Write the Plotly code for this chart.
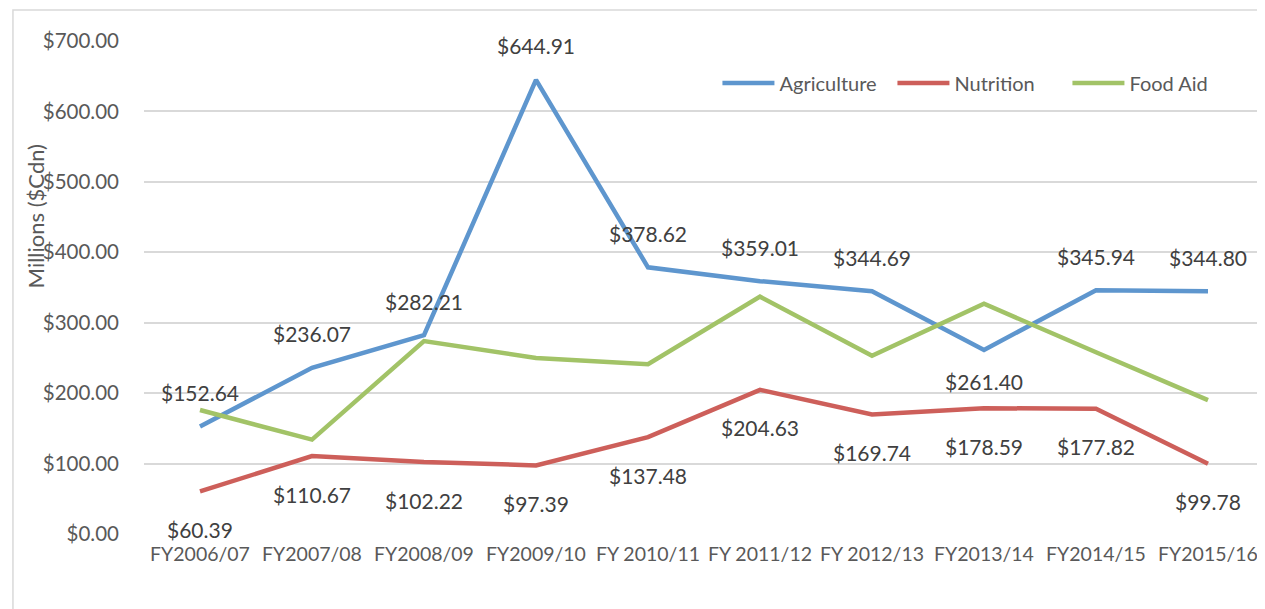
import plotly.graph_objects as go

years = ["FY2006/07", "FY2007/08", "FY2008/09", "FY2009/10", "FY 2010/11",
         "FY 2011/12", "FY 2012/13", "FY2013/14", "FY2014/15", "FY2015/16"]
agriculture = [152.64, 236.07, 282.21, 644.91, 378.62, 359.01, 344.69, 261.40, 345.94, 344.80]
nutrition = [60.39, 110.67, 102.22, 97.39, 137.48, 204.63, 169.74, 178.59, 177.82, 99.78]
food_aid = [176, 134, 274, 250, 241, 337, 253, 327, 258, 190]

FONT = "Lato"

fig = go.Figure()

# Lines
fig.add_trace(go.Scatter(x=years, y=agriculture, name="Agriculture", mode="lines",
                         line=dict(color="#5E96CE", width=4.5)))
fig.add_trace(go.Scatter(x=years, y=nutrition, name="Nutrition", mode="lines",
                         line=dict(color="#CD5F5A", width=4.5)))
fig.add_trace(go.Scatter(x=years, y=food_aid, name="Food Aid", mode="lines",
                         line=dict(color="#A2C367", width=4.5)))

# Data labels
annotations = []
for i, (yr, v) in enumerate(zip(years, agriculture)):
    shift = -32 if i == 7 else 34
    annotations.append(dict(x=yr, y=v, xref="x", yref="y", text=f"${v:,.2f}",
                            showarrow=False, yshift=shift,
                            font=dict(family=FONT, size=21, color="#404040")))
for yr, v in zip(years, nutrition):
    annotations.append(dict(x=yr, y=v, xref="x", yref="y", text=f"${v:,.2f}",
                            showarrow=False, yshift=-38,
                            font=dict(family=FONT, size=21, color="#404040")))

# Axis title
annotations.append(dict(x=-0.097, y=0.645, xref="paper", yref="paper", text="Millions ($Cdn)",
                        textangle=-90, showarrow=False, xanchor="center", yanchor="middle",
                        font=dict(family=FONT, size=22, color="#595959")))

fig.update_layout(
    width=1257, height=601,
    margin=dict(l=136, r=1, t=33, b=75, autoexpand=False),
    paper_bgcolor="white", plot_bgcolor="white",
    font=dict(family=FONT, color="#595959"),
    annotations=annotations,
    showlegend=True,
    legend=dict(orientation="h", x=0.512, y=0.915, xanchor="left", yanchor="middle",
                font=dict(family=FONT, size=20, color="#595959"),
                bgcolor="rgba(0,0,0,0)", itemwidth=52, tracegroupgap=0,
                entrywidth=108),
    shapes=[dict(type="rect", xref="paper", yref="paper", x0=-0.117, x1=1.05,
                 y0=-0.3, y1=1.063, line=dict(color="#D9D9D9", width=1.5), layer="below")],
)

fig.update_xaxes(type="category", range=[-0.5, 9.5], showgrid=False, showline=False,
                 ticks="", tickangle=0, ticklabelstandoff=6,
                 tickfont=dict(family=FONT, size=19.5, color="#595959"))
fig.update_yaxes(range=[0, 700], dtick=100, tickprefix="$", tickformat=",.2f",
                 showgrid=True, gridcolor="#D9D9D9", gridwidth=1.5, zeroline=False,
                 showline=False, ticks="", ticklabelstandoff=24,
                 tickfont=dict(family=FONT, size=20.5, color="#595959"))

fig.write_html("out.html")
